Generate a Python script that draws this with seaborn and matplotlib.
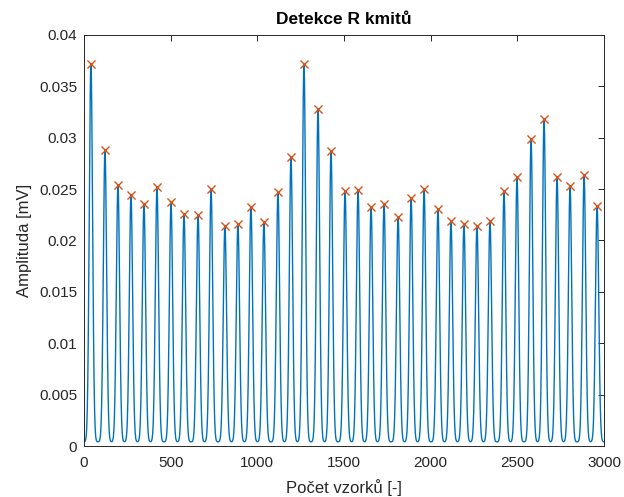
import numpy as np
import pandas as pd
import matplotlib
matplotlib.use("Agg")
import matplotlib.pyplot as plt
import seaborn as sns

# R-peak positions (samples) and amplitudes (mV)
peak_pos = [40, 121, 196, 271, 346, 421, 502, 577, 658, 733, 813, 888, 963,
            1038, 1119, 1194, 1269, 1350, 1425, 1506, 1581, 1656, 1731, 1812,
            1887, 1962, 2042, 2117, 2192, 2267, 2342, 2423, 2498, 2579, 2654,
            2729, 2804, 2885, 2960]
peak_amp = [0.0372, 0.0288, 0.0254, 0.0244, 0.0236, 0.0252, 0.0237, 0.0226,
            0.0225, 0.0250, 0.0214, 0.0216, 0.0233, 0.0218, 0.0247, 0.0281,
            0.0372, 0.0328, 0.0287, 0.0248, 0.0249, 0.0233, 0.0236, 0.0223,
            0.0241, 0.0250, 0.0231, 0.0219, 0.0216, 0.0214, 0.0219, 0.0248,
            0.0262, 0.0299, 0.0318, 0.0262, 0.0253, 0.0264, 0.0234]
n_samples = 3000
baseline = 0.0004
pulse_width = 9.5

xticks = [0, 500, 1000, 1500, 2000, 2500, 3000]
yticks = [0, 0.005, 0.01, 0.015, 0.02, 0.025, 0.03, 0.035, 0.04]
ytick_labels = ["0", "0.005", "0.01", "0.015", "0.02", "0.025", "0.03", "0.035", "0.04"]

# signal reconstructed from the detected R-peaks
n = np.arange(n_samples)
sig = np.full(n_samples, baseline)
for p, a in zip(peak_pos, peak_amp):
    sig += (a - baseline) * np.exp(-0.5 * ((n - p) / pulse_width) ** 2)
sig_df = pd.DataFrame({"n": n, "amp": sig})
peaks_df = pd.DataFrame({"n": peak_pos, "amp": peak_amp})

sns.set_style("white")
plt.rcParams["font.family"] = ["Liberation Sans", "DejaVu Sans"]

fig = plt.figure(figsize=(6.24, 4.97), dpi=100)
ax = fig.add_axes([0.1346, 0.1026, 0.8334, 0.827])

blue = (0.0, 0.447, 0.741)
orange = (0.85, 0.325, 0.098)
sns.lineplot(data=sig_df, x="n", y="amp", ax=ax, color=blue, linewidth=1.0)
sns.scatterplot(data=peaks_df, x="n", y="amp", ax=ax, marker="x", color=orange,
                s=34, linewidth=1.0, zorder=3)

ax.set_xlim(0, 3000)
ax.set_ylim(0, 0.04)
ax.set_xticks(xticks)
ax.set_yticks(yticks)
ax.set_yticklabels(ytick_labels)
gray = (0.15, 0.15, 0.15)
ax.tick_params(direction="in", length=4, width=0.7, colors=gray, labelsize=11,
               top=True, right=True, labeltop=False, labelright=False)
ax.tick_params(axis="x", pad=7.5)
ax.tick_params(axis="y", pad=5)
for s in ax.spines.values():
    s.set_color(gray)
    s.set_linewidth(0.7)
ax.set_xlabel("Počet vzorků [-]", fontsize=12, color=gray, labelpad=6)
ax.set_ylabel("Amplituda [mV]", fontsize=12, color=gray, labelpad=5)
ax.set_title("Detekce R kmitů", fontsize=12.5, fontweight="bold", color="black", pad=8)

fig.savefig("out.png", dpi=100)
